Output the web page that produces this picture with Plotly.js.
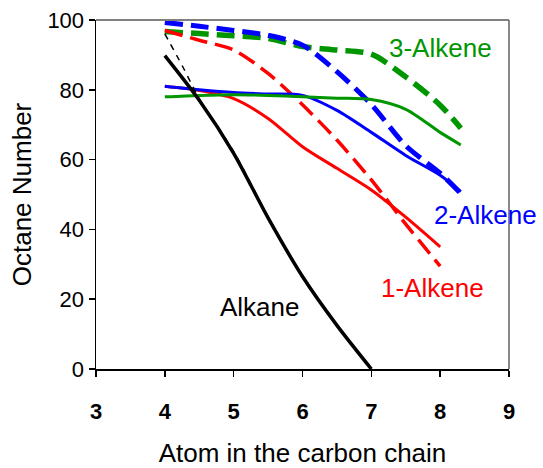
<!DOCTYPE html>
<html>
<head>
<meta charset="utf-8">
<script src="https://cdn.plot.ly/plotly-3.0.1.min.js"></script>
<style>html,body{margin:0;padding:0;background:#fff;}#chart{width:543px;height:468px;}</style>
</head>
<body>
<div id="chart"></div>
<script>
// Carbon-chain atom position
const xAlkane = [4, 4.5, 5, 5.5, 6, 6.5, 7];
const alkaneSolid = [89.8, 77, 61.8, 43.3, 26.5, 12.5, 0];
const xAlkaneDash = [4, 4.25, 4.5, 5, 5.5, 6, 6.5, 7];
const alkaneDash = [96, 87, 77.5, 62.3, 43.6, 26.2, 12.6, 0.3];

const x1 = [4, 4.5, 5, 5.5, 6, 6.5, 7, 7.5, 8];
const alkene1Solid = [81, 79.8, 77.5, 71.8, 63.7, 57.5, 51.3, 43.5, 35];
const alkene1Dash = [97, 94.2, 91.4, 84.7, 75.7, 65.6, 54.2, 41.5, 29.5];

const x2 = [4, 4.5, 5, 5.5, 6, 6.5, 7, 7.5, 8, 8.3];
const alkene2Solid = [81, 80, 79.2, 78.8, 78.4, 74.1, 67.8, 61.2, 55.5, 50.8];
const alkene2Dash = [99.3, 98.2, 97, 95.6, 92.8, 85.2, 75.8, 64, 56.1, 50.3];

const x3 = [4, 4.5, 5, 5.5, 6, 6.5, 7, 7.5, 8, 8.3];
const alkene3Solid = [78, 78.4, 78.6, 78.4, 78, 77.6, 77.2, 74.4, 67.8, 64.2];
const alkene3Dash = [96.7, 96.1, 95.5, 94.7, 92.4, 91.4, 90.2, 83.7, 75.6, 69];

const labels = ["Alkane", "1-Alkene", "2-Alkene", "3-Alkene"];
const labelX = [5.38, 7.89, 8.66, 8.0];
const labelY = [17.9, 23.2, 44.1, 92];

const RED = "#ff0000", BLUE = "#0000ff", GREEN = "#009600", BLACK = "#000000";
const FONT = "Liberation Sans, Arial, sans-serif";
const DASH = "18px,8px";

function tr(x, y, color, width, dash) {
  return {x: x, y: y, type: "scatter", mode: "lines",
    line: {color: color, width: width, dash: dash || "solid", shape: "spline", smoothing: 0.8},
    hoverinfo: "skip", showlegend: false};
}

const data = [
  tr(x3, alkene3Dash, GREEN, 5.5, DASH),
  tr(x2, alkene2Dash, BLUE, 5, DASH),
  tr(x1, alkene1Dash, RED, 3.5, DASH),
  tr(x1, alkene1Solid, RED, 3),
  tr(x2, alkene2Solid, BLUE, 3),
  tr(x3, alkene3Solid, GREEN, 3),
  tr(xAlkaneDash, alkaneDash, BLACK, 1.5, "6px,6px"),
  tr(xAlkane, alkaneSolid, BLACK, 3.5)
];

const labelColors = [BLACK, RED, BLUE, GREEN];
const annotations = labels.map((t, i) => ({
  x: labelX[i], y: labelY[i], xref: "x", yref: "y", text: t, showarrow: false,
  font: {family: FONT, size: 26, color: labelColors[i]}, xanchor: "center", yanchor: "middle"
}));

const layout = {
  width: 543, height: 468,
  margin: {l: 96, r: 34, t: 20, b: 99},
  paper_bgcolor: "#fff", plot_bgcolor: "#fff",
  font: {family: FONT, color: "#000"},
  xaxis: {
    range: [3, 9], dtick: 1, tick0: 3, showgrid: false, zeroline: false,
    showline: true, linecolor: "#000", linewidth: 1.5,
    ticks: "outside", ticklen: 6, tickwidth: 1.5, tickcolor: "#000",
    ticklabelstandoff: 16,
    tickfont: {family: FONT, size: 22, color: "#000", weight: "bold"},
    title: {text: "Atom in the carbon chain", font: {family: FONT, size: 26, color: "#000"}, standoff: 24}
  },
  yaxis: {
    range: [0, 100], dtick: 20, showgrid: false, zeroline: false,
    showline: true, linecolor: "#000", linewidth: 1.5,
    ticks: "outside", ticklen: 6, tickwidth: 1.5, tickcolor: "#000",
    tickfont: {family: FONT, size: 22, color: "#000"},
    title: {text: "Octane Number", font: {family: FONT, size: 26, color: "#000"}, standoff: 8}
  },
  shapes: [
    {type: "line", xref: "paper", yref: "paper", x0: 0, x1: 1, y0: 1, y1: 1, line: {color: "#808080", width: 2}},
    {type: "line", xref: "paper", yref: "paper", x0: 1, x1: 1, y0: 0, y1: 1, line: {color: "#606060", width: 1.5}}
  ],
  annotations: annotations
};

Plotly.newPlot("chart", data, layout, {staticPlot: true, displayModeBar: false});
</script>
</body>
</html>
